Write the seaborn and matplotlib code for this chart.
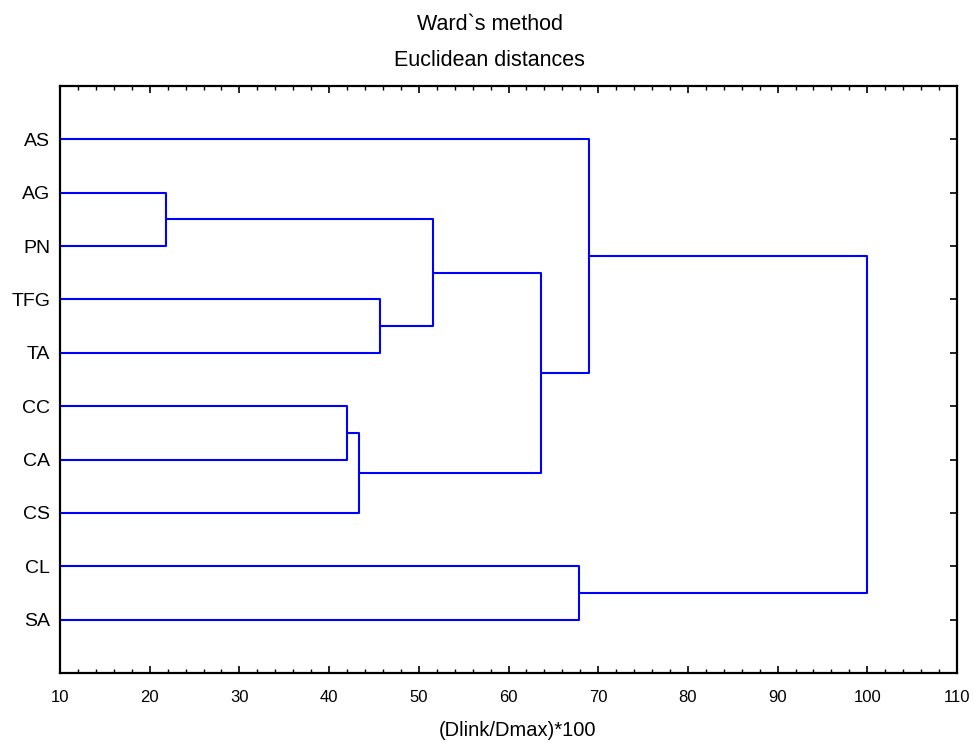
import numpy as np
import pandas as pd
import matplotlib
matplotlib.use("Agg")
import matplotlib.pyplot as plt
import seaborn as sns

# Leaves in display order (top to bottom)
leaves = ["AS", "AG", "PN", "TFG", "TA", "CC", "CA", "CS", "CL", "SA"]
# Merges: (member A, member B, linkage distance (Dlink/Dmax)*100) -> new cluster id
merge_a = ["AG", "TFG", "c1", "CC", "c4", "c3", "AS", "CL", "c7"]
merge_b = ["PN", "TA", "c2", "CA", "CS", "c5", "c6", "SA", "c8"]
merge_h = [21.8, 45.7, 51.6, 42.0, 43.3, 63.6, 69.0, 67.9, 100.0]
x_ticks = [10, 20, 30, 40, 50, 60, 70, 80, 90, 100, 110]

sns.set_theme(style="white")
plt.rcParams['font.family'] = ['Liberation Sans', 'DejaVu Sans']
plt.rcParams['text.color'] = 'black'
plt.rcParams['xtick.color'] = 'black'
plt.rcParams['ytick.color'] = 'black'

# Build segments from merge data
pos = {name: (i + 1, 10.0) for i, name in enumerate(leaves)}  # (y, x)
rows = []
for k, (a, b, h) in enumerate(zip(merge_a, merge_b, merge_h)):
    ya, xa = pos[a]
    yb, xb = pos[b]
    pts = [(xa, ya), (h, ya), (h, yb), (xb, yb)]
    for order, (px, py) in enumerate(pts):
        rows.append({"seg": k, "order": order, "x": px, "y": py})
    pos[f"c{k+1}"] = ((ya + yb) / 2.0, h)
df = pd.DataFrame(rows)

fig = plt.figure(figsize=(9.74, 7.43), dpi=100)
ax = fig.add_axes([60/974, 1-673/743, (957-60)/974, (673-86)/743])

sns.lineplot(data=df, x="x", y="y", units="seg", estimator=None, sort=False,
             color="#0000ff", lw=1.5, ax=ax)

ax.set_xlim(10, 110)
ax.set_ylim(11, 0)
ax.set_xticks(x_ticks)
ax.set_xticks(np.arange(10, 111, 2), minor=True)
ax.set_yticks(range(1, len(leaves) + 1))
ax.set_yticklabels(leaves)
ax.tick_params(axis="both", which="both", direction="in", top=True, right=True,
               left=True, bottom=True, color="black", labelcolor="black")
ax.tick_params(axis="both", which="major", length=5, width=1.2)
ax.tick_params(axis="x", which="minor", length=3, width=1.0)
ax.tick_params(axis="x", which="major", labelsize=12, pad=12.5)
ax.tick_params(axis="y", which="major", labelsize=14, pad=7)
for s in ax.spines.values():
    s.set_color("black")
    s.set_linewidth(1.6)
ax.set_xlabel("")
ax.set_ylabel("")
fig.text(518/974, 1-730/743, "(Dlink/Dmax)*100", ha="center", va="center", fontsize=14.5)
fig.text(490/974, 1-24/743, "Ward`s method", ha="center", va="center", fontsize=15.5)
fig.text(489/974, 1-61/743, "Euclidean distances", ha="center", va="center", fontsize=15.5)

fig.savefig("out.png", dpi=100)
